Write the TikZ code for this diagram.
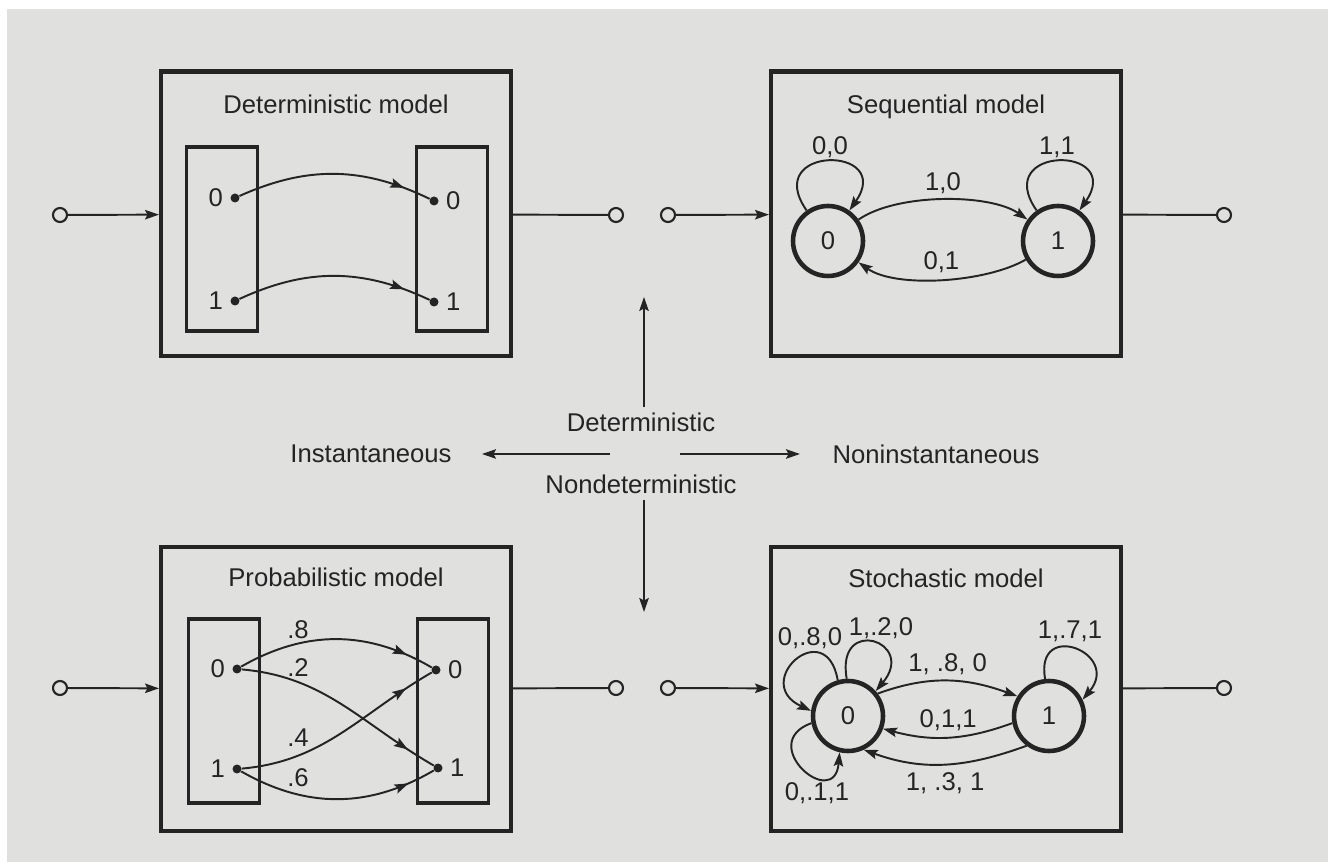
\documentclass[tikz,border=0pt]{standalone}
\usepackage{fontspec}
\setmainfont{Liberation Sans}
\usetikzlibrary{arrows.meta,positioning,decorations.markings}

\definecolor{ink}{RGB}{36,36,36}
\definecolor{paper}{RGB}{224,224,222}

\begin{document}
\begin{tikzpicture}[%
    x=0.02cm, y=0.02cm,          % one unit is one pixel of the scan
    >={Stealth[length=2.8mm, width=1.9mm, inset=0.5mm]},
    font=\fontsize{14.6}{17}\selectfont,
    text=ink,
    ]
% -------------------------------------------------
% Box, state and line styles
\tikzset{
  model/.style={draw=ink, line width=2.3pt, minimum width=7cm, minimum height=5.7cm},
  title/.style={anchor=base},
  slot/.style={draw=ink, line width=2.2pt, minimum width=1.42cm, minimum height=3.68cm},
  port/.style={circle, fill=ink, inner sep=0pt, minimum size=0.18cm},
  term/.style={circle, draw=ink, line width=1.2pt, fill=paper, inner sep=0pt, minimum size=0.28cm},
  state/.style={circle, draw=ink, line width=2.6pt, inner sep=0pt, minimum size=1.4cm},
  lbl/.style={inner sep=1pt},
  wire/.style={draw=ink, line width=1.1pt},
  midarrow/.style={postaction={decorate},
    decoration={markings, mark=at position #1 with {\arrow{>}}}},
  midarrow/.default=0.86,
}
% -------------------------------------------------
% Paper
\fill[white] (0,0) rectangle (1328,862);
\fill[paper] (7,0) rectangle (1328,853);
\useasboundingbox (0,0) rectangle (1328,862);

% -------------------------------------------------
% The four model boxes and their titles
\node[model] (det)  at (336,648) {};
\node[model] (seq)  at (946,648) {};
\node[model] (prob) at (336,173) {};
\node[model] (sto)  at (946,173) {};

\node[title] (dettitle)  at ([yshift=-0.88cm]det.north)  {Deterministic model};
\node[title] (seqtitle)  at ([yshift=-0.88cm]seq.north)  {Sequential model};
\node[title] (probtitle) at ([yshift=-0.84cm]prob.north) {Probabilistic model};
\node[title] (stotitle)  at ([yshift=-0.86cm]sto.north)  {Stochastic model};

% Input and output terminals
\node[term] (detin)   at (60,647)   {};
\node[term] (detout)  at (616,647)  {};
\node[term] (seqin)   at (668,647)  {};
\node[term] (seqout)  at (1224,647) {};
\node[term] (probin)  at (60,174)   {};
\node[term] (probout) at (616,174)  {};
\node[term] (stoin)   at (668,174)  {};
\node[term] (stoout)  at (1224,174) {};

\draw[wire,->] (detin) -- (det);
\draw[wire] (det) -- (detout);
\draw[wire,->] (seqin) -- (seq);
\draw[wire] (seq) -- (seqout);
\draw[wire,->] (probin) -- (prob);
\draw[wire] (prob) -- (probout);
\draw[wire,->] (stoin) -- (sto);
\draw[wire] (sto) -- (stoout);

% -------------------------------------------------
% Deterministic model
\node[slot] (dleft)  at (222,623) {};
\node[slot] (dright) at (452,623) {};
\node[port] (dl0) at (235,664) {};
\node[port] (dl1) at (235,561) {};
\node[port] (dr0) at (434,661) {};
\node[port] (dr1) at (434,560) {};
\node[lbl, left=3pt of dl0]  (dl0t) {0};
\node[lbl, left=3pt of dl1]  (dl1t) {1};
\node[lbl, right=3pt of dr0] (dr0t) {0};
\node[lbl, right=3pt of dr1] (dr1t) {1};

\draw[wire, midarrow] (dl0) to[bend left=25] (dr0);
\draw[wire, midarrow] (dl1) to[bend left=25] (dr1);

% -------------------------------------------------
% Probabilistic model
\node[slot] (pleft)  at (224,151) {};
\node[slot] (pright) at (453,151) {};
\node[port] (pl0) at (237,193) {};
\node[port] (pl1) at (237,93)  {};
\node[port] (pr0) at (436,192) {};
\node[port] (pr1) at (438,94)  {};
\node[lbl, left=3pt of pl0]  (pl0t) {0};
\node[lbl, left=3pt of pl1]  (pl1t) {1};
\node[lbl, right=3pt of pr0] (pr0t) {0};
\node[lbl, right=3pt of pr1] (pr1t) {1};

\draw[wire, midarrow] (pl0) to[bend left=30] (pr0);
\draw[wire, midarrow] (pl0) to[out=-5, in=150] (pr1);
\draw[wire, midarrow] (pl1) to[out=5, in=-150] (pr0);
\draw[wire, midarrow] (pl1) to[bend right=30] (pr1);

\node[lbl] (p8) at (298,232) {.8};
\node[lbl] (p2) at (298,194) {.2};
\node[lbl] (p4) at (298,124) {.4};
\node[lbl] (p6) at (298,84)  {.6};

% -------------------------------------------------
% Sequential model
\node[state] (s0) at (828,621)  {0};
\node[state] (s1) at (1058,621) {1};

\draw[wire,->] (s0) to[out=125, in=55, min distance=1.6cm] (s0);
\draw[wire,->] (s1) to[out=125, in=55, min distance=1.6cm] (s1);
\node[lbl] (l00) at (830,715)  {0,0};
\node[lbl] (l11) at (1057,715) {1,1};

\draw[wire,->] (s0) to[out=35, in=145, looseness=0.7]
  node[lbl, above=2pt] (l10) {1,0} (s1);
\draw[wire,->] (s1) to[out=210, in=-35, looseness=0.7]
  node[lbl, above=2pt] (l01) {0,1} (s0);

% -------------------------------------------------
% Stochastic model
\node[state] (t0) at (848,146)  {0};
\node[state] (t1) at (1049,146) {1};

\draw[wire,->] (t0.106) to[out=100, in=155, min distance=1.35cm] (t0.172);
\draw[wire,->] (t0.92)  to[out=100, in=50,  min distance=1.3cm] (t0.42);
\draw[wire,->] (t0.191) to[out=200, in=265, min distance=1.2cm] (t0.257);
\draw[wire,->] (t1.96)  to[out=100, in=50,  min distance=1.22cm] (t1.26);

\node[lbl] (t0a) at (810,224)  {0,.8,0};
\node[lbl] (t0b) at (881,234)  {1,.2,0};
\node[lbl] (t0c) at (817,69)   {0,.1,1};
\node[lbl] (t1a) at (1070,231) {1,.7,1};

\draw[wire,->] (t0.37) to[out=20, in=160]
  node[lbl, above=2pt] (t01) {1, .8, 0} (t1.148);
\draw[wire,->] (t1.191) to[out=200, in=-15]
  node[lbl, above=2pt] (t10a) {0,1,1} (t0.-20);
\draw[wire,->] (t1.233) to[out=200, in=-20]
  node[lbl, below=3pt] (t10b) {1, .3, 1} (t0.295);

% -------------------------------------------------
% Axes in the middle
\coordinate (origin)    at (644,408);
\coordinate (uptip)     at (644,565);
\coordinate (downtip)   at (644,250);
\coordinate (lefttip)   at (482,408);
\coordinate (righttip)  at (800,408);

\node[lbl] (detlbl)   at (641,440) {Deterministic};
\node[lbl] (ndetlbl)  at (641,378) {Nondeterministic};
\node[lbl] (instlbl)  at (371,408) {Instantaneous};
\node[lbl] (ninstlbl) at (936,408) {Noninstantaneous};

\draw[wire,->, shorten <=0.94cm] (origin) -- (uptip);
\draw[wire,->, shorten <=0.92cm] (origin) -- (downtip);
\draw[wire,->, shorten <=0.68cm] (origin) -- (lefttip);
\draw[wire,->, shorten <=0.72cm] (origin) -- (righttip);
% -------------------------------------------------
\end{tikzpicture}
\end{document}
